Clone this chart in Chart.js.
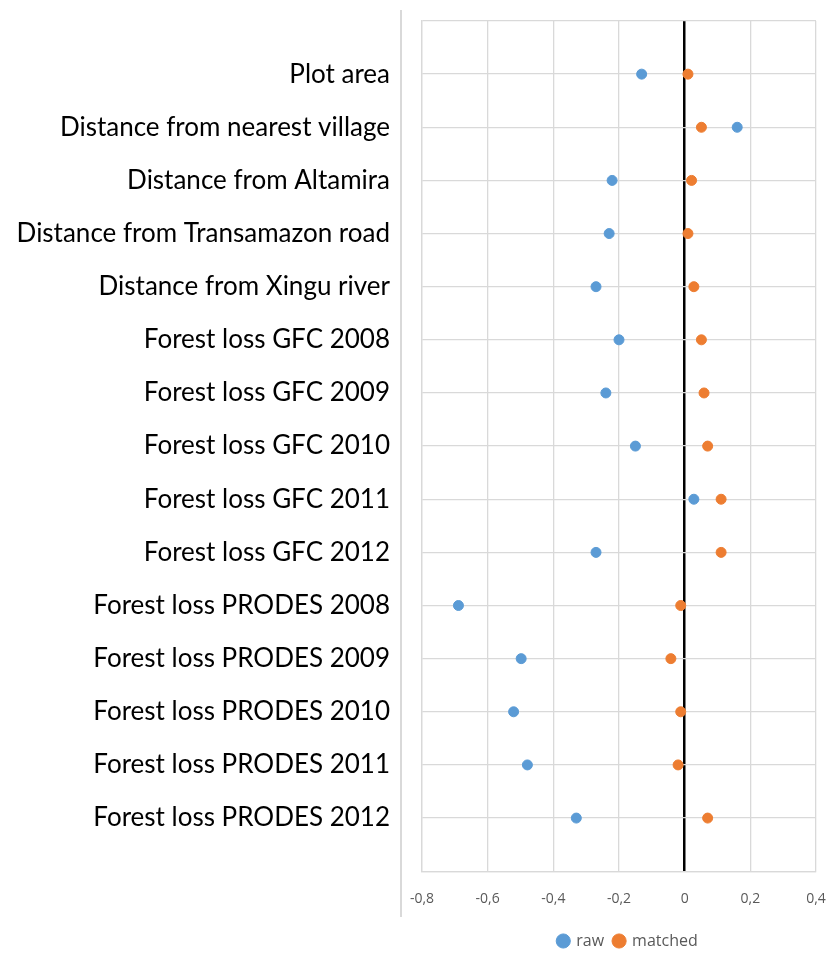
<!DOCTYPE html>
<html>
<head>
<meta charset="utf-8">
<script src="https://cdn.jsdelivr.net/npm/chart.js@4.4.1/dist/chart.umd.min.js"></script>
<style>
body { margin: 0; background: #fff; }
#wrap { position: relative; width: 830px; height: 953px; }
#edge { position: absolute; left: 400px; top: 10px; width: 0; height: 907px; border-left: 2px solid #d9d9d9; }
</style>
</head>
<body>
<div id="wrap"><canvas id="chart" width="830" height="953"></canvas><div id="edge"></div></div>
<script>
var categories = ["Plot area", "Distance from nearest village", "Distance from Altamira",
	"Distance from Transamazon road", "Distance from Xingu river",
	"Forest loss GFC 2008", "Forest loss GFC 2009", "Forest loss GFC 2010",
	"Forest loss GFC 2011", "Forest loss GFC 2012",
	"Forest loss PRODES 2008", "Forest loss PRODES 2009", "Forest loss PRODES 2010",
	"Forest loss PRODES 2011", "Forest loss PRODES 2012"];
var rawValues = [-0.131, 0.160, -0.221, -0.230, -0.270, -0.200, -0.240, -0.150, 0.028, -0.270,
	-0.689, -0.498, -0.521, -0.479, -0.330];
var matchedValues = [0.010, 0.051, 0.021, 0.010, 0.028, 0.051, 0.059, 0.070, 0.111, 0.111,
	-0.012, -0.042, -0.012, -0.020, 0.070];
var xMin = -0.8, xMax = 0.4, xStep = 0.2;

// blank labels at both ends so the rows sit on grid lines with a full gap at top and bottom
var yLabels = [""].concat(categories, [""]);

function points(vals){
	var out = [];
	for (var i = 0; i < vals.length; i++)
		out.push({x: vals[i], y: categories[i]});
	return out;
}

// nudge the legend a bit, Excel puts it slightly right/lower than chart.js does
var legendNudge = {
	id: 'legendNudge',
	afterLayout: function(chart){
		var lg = chart.legend;
		lg.left += 9; lg.right += 9;
		lg.top += 6; lg.bottom += 6;
	}
};

var ctx = document.getElementById("chart").getContext('2d');
var chart = new Chart(ctx, {
	type: 'scatter',
	data: {
		datasets: [{
			label: "raw",
			data: points(rawValues),
			backgroundColor: "#5B9BD5",
			borderColor: "#5B9BD5",
			pointRadius: 5,
			pointHoverRadius: 5
		}, {
			label: "matched",
			data: points(matchedValues),
			backgroundColor: "#ED7D31",
			borderColor: "#ED7D31",
			pointRadius: 5,
			pointHoverRadius: 5
		}]
	},
	options: {
		responsive: false,
		animation: false,
		layout: { padding: { top: 21, right: 14, left: 0, bottom: 0 } },
		scales: {
			x: {
				type: 'linear',
				min: xMin,
				max: xMax,
				ticks: {
					stepSize: xStep,
					padding: 19,
					color: "#595959",
					font: { family: "'Open Sans'", size: 14 },
					callback: function(v){ return String(Math.round(v * 10) / 10).replace('.', ','); }
				},
				grid: {
					drawTicks: false,
					color: function(c){ return Math.abs(c.tick.value) < 1e-9 ? "#000000" : "#d9d9d9"; },
					lineWidth: function(c){ return Math.abs(c.tick.value) < 1e-9 ? 2.5 : 1.3; }
				},
				border: { color: "#d9d9d9", width: 1.3 },
				afterFit: function(s){ s.height = 45.8; s.paddingLeft = 0; s.paddingRight = 0; }
			},
			y: {
				type: 'category',
				labels: yLabels,
				offset: false,
				ticks: {
					padding: 32,
					color: "#000000",
					font: { family: "Lato", size: 26 },
					autoSkip: false
				},
				grid: { drawTicks: false, color: "#d9d9d9", lineWidth: 1.3 },
				border: { color: "#d9d9d9", width: 1.3 },
				afterFit: function(s){ s.width = 422; s.paddingTop = 0; s.paddingBottom = 0; }
			}
		},
		plugins: {
			legend: {
				position: 'bottom',
				fullSize: false,
				labels: {
					usePointStyle: true,
					pointStyle: 'circle',
					boxWidth: 10,
					boxHeight: 10,
					color: "#595959",
					font: { family: "'Open Sans'", size: 16 }
				}
			},
			tooltip: { enabled: false }
		}
	},
	plugins: [legendNudge]
});
</script>
</body>
</html>
